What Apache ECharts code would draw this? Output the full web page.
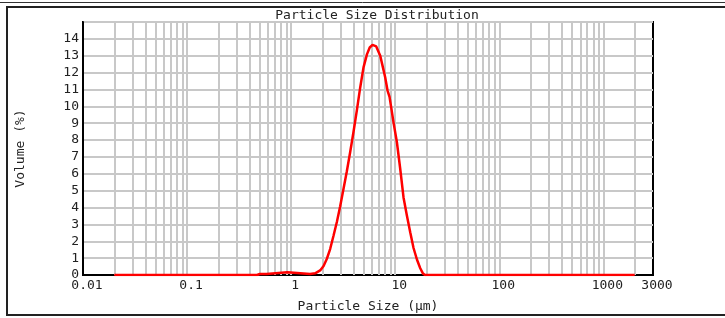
<!DOCTYPE html>
<html>
<head>
<meta charset="utf-8">
<script src="https://cdn.jsdelivr.net/npm/echarts@6/dist/echarts.min.js"></script>
<style>
html,body{margin:0;padding:0;background:#fff;}
#chart{width:725px;height:318px;}
</style>
</head>
<body>
<div id="chart"></div>
<script>
// ---- data ----
const chartTitle = "Particle Size Distribution";
const xAxisTitle = "Particle Size (\u03bcm)";
const yAxisTitle = "Volume (%)";
const particleSizes = [0.02, 0.47, 0.5, 0.58, 0.6, 0.92, 0.95, 1.52, 1.70, 1.90, 2.05, 2.20, 2.37, 2.55, 2.75, 2.96, 3.18, 3.43, 3.69, 3.97, 4.28, 4.61, 4.96, 5.35, 5.69, 6.05, 6.57, 7.18, 7.58, 8.01, 8.43, 8.82, 9.15, 9.63, 10.38, 11.17, 12.02, 12.96, 13.94, 15.00, 16.17, 17.40, 18.5, 19.4, 2000];
const volumes = [0, 0, 0.06, 0.06, 0.16, 0.16, 0.06, 0.06, 0.1, 0.27, 0.53, 0.95, 1.54, 2.31, 3.14, 4.08, 5.09, 6.15, 7.28, 8.46, 9.76, 11.12, 12.31, 13.08, 13.49, 13.64, 13.55, 13.0, 12.37, 11.72, 10.95, 10.56, 9.94, 9.05, 7.87, 6.3, 4.6, 3.51, 2.53, 1.6, 0.92, 0.4, 0.08, 0, 0];
const xMin = 0.01, xMax = 3000;
const yMin = 0, yMax = 15, yStep = 1;
const decades = [0.01, 0.1, 1, 10, 100, 1000];
const gridMultipliers = [1, 2, 3, 4, 5, 6, 7, 8, 9];

// ---- build ----
const MONO = "'DejaVu Sans Mono', monospace";
const seriesData = particleSizes.map((s, i) => [s, volumes[i]]);
const vLines = [];
decades.forEach(d => gridMultipliers.forEach(k => {
  const v = +(k * d).toPrecision(6);
  if (v > xMin && v < xMax) vLines.push({ xAxis: v });
}));

const chart = echarts.init(document.getElementById('chart'), null, { renderer: 'canvas' });
chart.setOption({
  animation: false,
  backgroundColor: '#fff',
  title: {
    text: chartTitle, left: 377, top: 9, padding: 0, textAlign: 'center',
    textStyle: { fontFamily: MONO, fontSize: 13, fontWeight: 'normal', color: '#222' }
  },
  grid: { left: 83, right: 72, top: 22, bottom: 42, show: true, borderColor: '#000', borderWidth: 2, backgroundColor: 'transparent' },
  xAxis: {
    type: 'log', logBase: 10, min: xMin, max: xMax,
    name: xAxisTitle, nameLocation: 'middle', nameGap: 25,
    nameTextStyle: { fontFamily: MONO, fontSize: 13, color: '#222' },
    axisLine: { show: true, onZero: false, lineStyle: { color: '#000', width: 2 } },
    axisTick: { show: false },
    splitLine: { show: false },
    minorSplitLine: { show: false },
    axisLabel: {
      margin: 4, fontFamily: MONO, fontSize: 13, color: '#222', padding: [0, 0, 0, 8],
      showMinLabel: true, showMaxLabel: true,
      formatter: v => String(+(+v).toPrecision(6))
    }
  },
  yAxis: {
    type: 'value', min: yMin, max: yMax, interval: yStep,
    name: yAxisTitle, nameLocation: 'middle', nameGap: 56, nameRotate: 90,
    nameTextStyle: { fontFamily: MONO, fontSize: 13, color: '#222' },
    axisLine: { show: true, lineStyle: { color: '#000', width: 2 } },
    axisTick: { show: false },
    splitLine: { show: true, lineStyle: { color: '#c8c8c8', width: 2 } },
    axisLabel: {
      margin: 4, fontFamily: MONO, fontSize: 13, color: '#222',
      formatter: v => (v >= yMax ? '' : String(v))
    }
  },
  graphic: [
    { type: 'line', shape: { x1: 0, y1: 2.5, x2: 725, y2: 2.5 }, style: { stroke: '#333', lineWidth: 1 }, z: 100 },
    { type: 'rect', shape: { x: 7, y: 7, width: 740, height: 308 }, style: { fill: 'none', stroke: '#222', lineWidth: 2 }, z: 100 }
  ],
  series: [
    {
      type: 'line', data: [], z: 1, silent: true,
      markLine: {
        silent: true, symbol: 'none', label: { show: false },
        lineStyle: { color: '#c8c8c8', width: 2, type: 'solid' },
        data: vLines, animation: false
      }
    },
    {
      type: 'line', data: seriesData, z: 5, showSymbol: false, symbol: 'none',
      lineStyle: { color: '#ff0000', width: 2.5 }, silent: true
    }
  ]
});
</script>
</body>
</html>
